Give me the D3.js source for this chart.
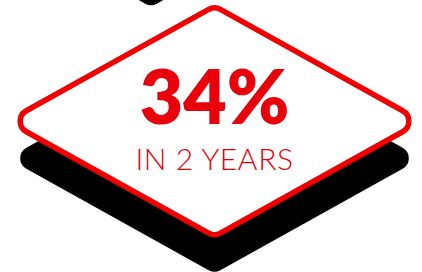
<!DOCTYPE html>
<html>
<head>
<meta charset="utf-8">
<script src="https://cdn.jsdelivr.net/npm/d3@7"></script>
<style>
  html, body { margin: 0; padding: 0; background: #fff; }
  svg { display: block; }
</style>
</head>
<body>
<script>
// values shown on the tile
const statValues = [34];
const statUnits = ['%'];
const statLabels = ['IN 2 YEARS'];

const width = 422, height = 272;
const red = '#f00000';
const textRed = '#e8000a';

const svg = d3.select('body').append('svg')
  .attr('width', width)
  .attr('height', height);

// unit diamond (-1..1) mapped to the tile box
const x = d3.scaleLinear().domain([-1, 1]).range([7.5, 421.5]);
const y = d3.scaleLinear().domain([-1, 1]).range([6.1, 236.4]);
const radius = 12;

const diamond = () => {
  const p = d3.path();
  const top = [x(0), y(-1)], right = [x(1), y(0)], bottom = [x(0), y(1)], left = [x(-1), y(0)];
  p.moveTo((left[0] + top[0]) / 2, (left[1] + top[1]) / 2);
  p.arcTo(top[0], top[1], right[0], right[1], radius);
  p.arcTo(right[0], right[1], bottom[0], bottom[1], radius);
  p.arcTo(bottom[0], bottom[1], left[0], left[1], radius);
  p.arcTo(left[0], left[1], top[0], top[1], radius);
  p.closePath();
  return p.toString();
};

const shadowDrop = 37;

// neighbouring tile's shadow peeking in at the top
svg.append('path')
  .attr('d', diamond())
  .attr('transform', `translate(-63.5,${6.9 - y(1)})`)
  .attr('fill', '#000');

// shadow
svg.append('path')
  .attr('d', diamond())
  .attr('transform', `translate(0,${shadowDrop})`)
  .attr('fill', '#000');

// tile
svg.append('path')
  .attr('d', diamond())
  .attr('fill', '#fff')
  .attr('stroke', red)
  .attr('stroke-width', 5.5)
  .attr('stroke-linejoin', 'round');

const cx = x(0);

svg.selectAll('text.value')
  .data(statValues)
  .join('text')
  .attr('class', 'value')
  .attr('x', cx)
  .attr('y', 124)
  .attr('text-anchor', 'middle')
  .attr('fill', textRed)
  .style('font-family', 'Lato, sans-serif')
  .style('font-weight', 800)
  .style('font-size', '75px')
  .text((d, i) => d + statUnits[i]);

svg.selectAll('text.label')
  .data(statLabels)
  .join('text')
  .attr('class', 'label')
  .attr('x', cx)
  .attr('y', 170)
  .attr('text-anchor', 'middle')
  .attr('fill', textRed)
  .style('font-family', 'Lato, sans-serif')
  .style('font-weight', 300)
  .style('font-size', '30px')
  .style('letter-spacing', '0.6px')
  .text(d => d);
</script>
</body>
</html>
